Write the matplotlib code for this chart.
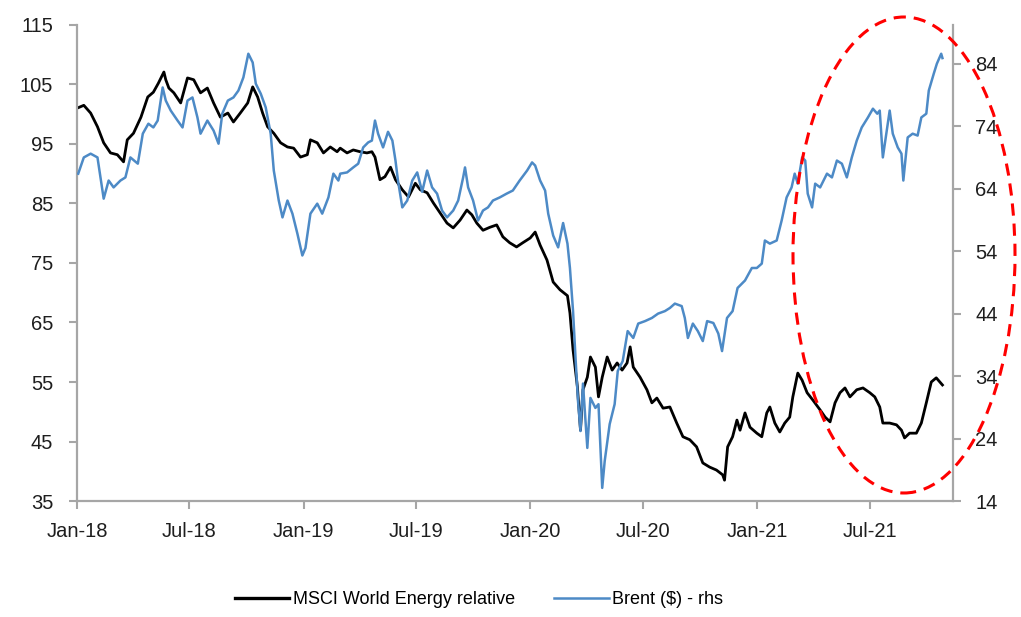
import pandas as pd
import matplotlib
matplotlib.use("Agg")
import matplotlib.pyplot as plt
import matplotlib.dates as mdates
from matplotlib.patches import Ellipse

plt.rcParams['font.family'] = ['Liberation Sans Narrow', 'Liberation Sans', 'DejaVu Sans']

# MSCI World Energy relative (lhs)
msci_dates = [
    "2018-01-03", "2018-01-12", "2018-01-23", "2018-02-03", "2018-02-13", "2018-02-24",
    "2018-03-07", "2018-03-17", "2018-03-23", "2018-04-02", "2018-04-14", "2018-04-25",
    "2018-05-04", "2018-05-12", "2018-05-21", "2018-05-24", "2018-05-29", "2018-06-06",
    "2018-06-17", "2018-06-28", "2018-07-08", "2018-07-19", "2018-07-30", "2018-08-09",
    "2018-08-20", "2018-09-01", "2018-09-10", "2018-09-21", "2018-10-03", "2018-10-11",
    "2018-10-19", "2018-10-27", "2018-11-04", "2018-11-14", "2018-11-25", "2018-12-06",
    "2018-12-16", "2018-12-27", "2019-01-07", "2019-01-12", "2019-01-23", "2019-02-02",
    "2019-02-13", "2019-02-24", "2019-03-01", "2019-03-12", "2019-03-22", "2019-04-02",
    "2019-04-13", "2019-04-21", "2019-04-26", "2019-05-04", "2019-05-12", "2019-05-21",
    "2019-05-29", "2019-06-09", "2019-06-19", "2019-06-30", "2019-07-08", "2019-07-19",
    "2019-07-29", "2019-08-09", "2019-08-20", "2019-08-30", "2019-09-10", "2019-09-21",
    "2019-09-29", "2019-10-07", "2019-10-17", "2019-10-28", "2019-11-08", "2019-11-18",
    "2019-11-29", "2019-12-10", "2019-12-20", "2020-01-01", "2020-01-09", "2020-01-17",
    "2020-01-28", "2020-02-07", "2020-02-18", "2020-03-01", "2020-03-05", "2020-03-10",
    "2020-03-17", "2020-03-22", "2020-03-26", "2020-04-02", "2020-04-07", "2020-04-15",
    "2020-04-20", "2020-04-26", "2020-05-04", "2020-05-12", "2020-05-20", "2020-05-28",
    "2020-06-05", "2020-06-10", "2020-06-15", "2020-06-26", "2020-07-07", "2020-07-15",
    "2020-07-23", "2020-08-02", "2020-08-13", "2020-08-24", "2020-09-03", "2020-09-14",
    "2020-09-25", "2020-10-05", "2020-10-16", "2020-10-27", "2020-11-06", "2020-11-09",
    "2020-11-14", "2020-11-22", "2020-11-29", "2020-12-04", "2020-12-12", "2020-12-20",
    "2020-12-31", "2021-01-08", "2021-01-16", "2021-01-21", "2021-01-29", "2021-02-06",
    "2021-02-14", "2021-02-22", "2021-02-27", "2021-03-07", "2021-03-14", "2021-03-22",
    "2021-03-31", "2021-04-12", "2021-04-20", "2021-04-28", "2021-05-06", "2021-05-14",
    "2021-05-22", "2021-05-30", "2021-06-10", "2021-06-20", "2021-07-01", "2021-07-09",
    "2021-07-17", "2021-07-22", "2021-08-02", "2021-08-13", "2021-08-21", "2021-08-26",
    "2021-09-03", "2021-09-14", "2021-09-22", "2021-09-30", "2021-10-08", "2021-10-16",
    "2021-10-26",
]
msci_values = [
    101.1, 101.5, 100.2, 97.9, 95.2, 93.5,
    93.2, 92.0, 95.7, 96.8, 99.5, 102.9,
    103.7, 105.2, 107.1, 105.8, 104.4, 103.6,
    101.9, 106.1, 105.8, 103.6, 104.4, 101.9,
    99.5, 100.2, 98.7, 100.2, 101.9, 104.6,
    102.9, 100.2, 97.9, 96.8, 95.2, 94.5,
    94.3, 92.8, 93.2, 95.7, 95.2, 93.5,
    94.5, 93.7, 94.3, 93.5, 94.0, 93.7,
    93.5, 93.7, 92.8, 89.0, 89.5, 91.1,
    89.0, 87.3, 86.1, 88.4, 87.3, 86.8,
    85.1, 83.4, 81.7, 80.9, 82.2, 83.9,
    83.1, 81.7, 80.5, 81.0, 81.4, 79.4,
    78.4, 77.7, 78.4, 79.2, 80.2, 78.0,
    75.5, 71.8, 70.5, 69.5, 66.6, 60.4,
    54.2, 46.9, 53.7, 55.8, 59.2, 57.5,
    52.5, 55.8, 59.2, 57.0, 58.2, 57.0,
    58.2, 60.9, 57.5, 55.8, 53.7, 51.5,
    52.3, 50.6, 50.8, 48.1, 45.8, 45.3,
    44.1, 41.4, 40.7, 40.2, 39.4, 38.5,
    44.1, 45.8, 48.6, 46.9, 49.8, 47.4,
    46.4, 45.8, 49.8, 50.8, 48.1, 46.6,
    48.1, 49.1, 52.5, 56.5, 55.3, 53.2,
    52.0, 50.3, 49.1, 48.3, 51.5, 53.2,
    54.0, 52.5, 53.7, 54.0, 53.2, 52.5,
    50.8, 48.1, 48.1, 47.8, 46.9, 45.6,
    46.4, 46.4, 48.1, 51.5, 55.0, 55.7,
    54.5,
]

# Brent ($) - rhs
brent_dates = [
    "2018-01-03", "2018-01-12", "2018-01-23", "2018-02-03", "2018-02-13", "2018-02-21",
    "2018-03-01", "2018-03-12", "2018-03-20", "2018-03-28", "2018-04-09", "2018-04-17",
    "2018-04-26", "2018-05-04", "2018-05-11", "2018-05-19", "2018-05-24", "2018-06-01",
    "2018-06-12", "2018-06-20", "2018-06-28", "2018-07-06", "2018-07-14", "2018-07-19",
    "2018-07-30", "2018-08-09", "2018-08-17", "2018-08-23", "2018-09-01", "2018-09-10",
    "2018-09-18", "2018-09-26", "2018-10-04", "2018-10-11", "2018-10-16", "2018-10-24",
    "2018-11-01", "2018-11-09", "2018-11-14", "2018-11-22", "2018-11-28", "2018-12-06",
    "2018-12-14", "2018-12-22", "2018-12-30", "2019-01-04", "2019-01-12", "2019-01-23",
    "2019-01-31", "2019-02-10", "2019-02-18", "2019-02-26", "2019-03-01", "2019-03-12",
    "2019-03-22", "2019-03-30", "2019-04-07", "2019-04-15", "2019-04-21", "2019-04-26",
    "2019-05-01", "2019-05-09", "2019-05-17", "2019-05-24", "2019-05-29", "2019-06-02",
    "2019-06-09", "2019-06-17", "2019-06-25", "2019-07-03", "2019-07-11", "2019-07-19",
    "2019-07-27", "2019-08-04", "2019-08-12", "2019-08-20", "2019-08-30", "2019-09-07",
    "2019-09-15", "2019-09-18", "2019-09-23", "2019-10-01", "2019-10-09", "2019-10-17",
    "2019-10-25", "2019-11-02", "2019-11-13", "2019-11-24", "2019-12-04", "2019-12-15",
    "2019-12-27", "2020-01-04", "2020-01-09", "2020-01-17", "2020-01-25", "2020-01-30",
    "2020-02-07", "2020-02-15", "2020-02-23", "2020-03-01", "2020-03-05", "2020-03-10",
    "2020-03-14", "2020-03-18", "2020-03-22", "2020-03-26", "2020-04-02", "2020-04-07",
    "2020-04-15", "2020-04-20", "2020-04-26", "2020-04-30", "2020-05-08", "2020-05-16",
    "2020-05-21", "2020-05-29", "2020-06-06", "2020-06-15", "2020-06-23", "2020-07-04",
    "2020-07-15", "2020-07-25", "2020-08-05", "2020-08-13", "2020-08-21", "2020-09-01",
    "2020-09-06", "2020-09-11", "2020-09-19", "2020-09-27", "2020-10-05", "2020-10-12",
    "2020-10-22", "2020-10-30", "2020-11-05", "2020-11-13", "2020-11-22", "2020-11-30",
    "2020-12-12", "2020-12-23", "2020-12-31", "2021-01-08", "2021-01-13", "2021-01-21",
    "2021-02-01", "2021-02-09", "2021-02-17", "2021-02-25", "2021-03-02", "2021-03-07",
    "2021-03-14", "2021-03-19", "2021-03-23", "2021-03-30", "2021-04-04", "2021-04-12",
    "2021-04-23", "2021-05-01", "2021-05-09", "2021-05-17", "2021-05-25", "2021-06-02",
    "2021-06-10", "2021-06-18", "2021-06-28", "2021-07-06", "2021-07-13", "2021-07-17",
    "2021-07-22", "2021-07-29", "2021-08-02", "2021-08-07", "2021-08-15", "2021-08-21",
    "2021-08-24", "2021-08-31", "2021-09-08", "2021-09-16", "2021-09-22", "2021-09-30",
    "2021-10-04", "2021-10-12", "2021-10-17", "2021-10-24", "2021-10-26",
]
brent_values = [
    66.4, 69.0, 69.6, 69.0, 62.4, 65.3,
    64.2, 65.3, 65.8, 69.0, 68.0, 72.8,
    74.4, 73.8, 74.9, 80.2, 78.1, 76.5,
    74.9, 73.8, 78.1, 78.6, 75.4, 72.8,
    74.9, 73.3, 71.2, 76.0, 78.1, 78.6,
    79.7, 81.8, 85.6, 84.2, 80.8, 79.2,
    77.0, 72.8, 66.9, 62.1, 59.4, 62.1,
    60.0, 56.8, 53.3, 54.5, 60.0, 61.6,
    60.0, 62.6, 66.4, 65.3, 66.4, 66.6,
    67.4, 68.0, 70.6, 71.4, 71.7, 74.9,
    72.8, 70.6, 73.1, 71.7, 68.5, 65.3,
    61.0, 62.1, 65.3, 66.6, 63.5, 66.9,
    64.2, 63.2, 60.5, 59.4, 60.5, 62.1,
    65.8, 67.4, 64.2, 62.1, 58.9, 60.5,
    61.0, 62.1, 62.6, 63.2, 63.7, 65.3,
    66.9, 68.2, 67.7, 65.3, 63.7, 60.0,
    56.5, 54.6, 58.5, 55.2, 51.3, 44.4,
    36.9, 30.0, 25.2, 32.8, 22.5, 30.5,
    28.9, 29.5, 16.1, 20.4, 26.3, 29.5,
    34.8, 36.4, 41.2, 40.1, 42.4, 42.8,
    43.3, 44.0, 44.4, 44.9, 45.6, 45.2,
    43.3, 40.1, 42.4, 41.2, 39.6, 42.8,
    42.5, 40.8, 38.0, 43.3, 44.4, 48.1,
    49.3, 51.3, 51.3, 52.0, 55.7, 55.2,
    55.7, 58.9, 62.6, 64.2, 66.4, 64.8,
    69.0, 68.5, 63.2, 61.0, 64.8, 64.2,
    66.4, 65.8, 68.5, 68.0, 65.8, 69.0,
    71.7, 73.8, 75.4, 76.8, 76.0, 76.5,
    69.0, 73.8, 76.5, 72.8, 70.6, 69.6,
    65.3, 72.2, 72.8, 72.5, 75.4, 76.0,
    79.7, 82.4, 84.0, 85.6, 84.9,
]

left_ticks = [35, 45, 55, 65, 75, 85, 95, 105, 115]
right_ticks = [14, 24, 34, 44, 54, 64, 74, 84]
x_ticks = ["2018-01-01", "2018-07-01", "2019-01-01", "2019-07-01",
           "2020-01-01", "2020-07-01", "2021-01-01", "2021-07-01"]

grey = "#a6a6a6"
txt = "#1e1e1e"
blue = "#4d8ac6"

fig = plt.figure(figsize=(10.21, 6.17), dpi=100)
ax = fig.add_axes([0.0754, 0.188, 0.858, 0.7715])
ax2 = ax.twinx()

l1, = ax.plot(pd.to_datetime(msci_dates), msci_values, color="black", lw=2.0,
              label="MSCI World Energy relative")
l2, = ax2.plot(pd.to_datetime(brent_dates), brent_values, color=blue, lw=1.8,
               label="Brent ($) - rhs")

ax.set_ylim(35, 115)
ax2.set_ylim(14, 90.2)
ax.set_yticks(left_ticks)
ax2.set_yticks(right_ticks)
ax.set_xlim(pd.Timestamp("2018-01-01"), pd.Timestamp("2021-11-12"))
ax.set_xticks(pd.to_datetime(x_ticks))
ax.xaxis.set_major_formatter(mdates.DateFormatter("%b-%y"))

for a in (ax, ax2):
    for s in a.spines.values():
        s.set_visible(False)
    a.tick_params(colors=grey, labelcolor=txt, labelsize=14.5, length=6, width=1.5)
ax.spines["left"].set_visible(True)
ax.spines["bottom"].set_visible(True)
ax2.spines["right"].set_visible(True)
for s in (ax.spines["left"], ax.spines["bottom"], ax2.spines["right"]):
    s.set_color(grey)
    s.set_linewidth(1.6)
ax.tick_params(axis="y", pad=11)
ax.tick_params(axis="x", pad=9)
ax2.tick_params(axis="y", pad=10)

# red dashed ellipse highlighting the recent period
ell = Ellipse((904 / 1021, 1 - 255 / 617), 222 / 1021, 476 / 617,
              transform=fig.transFigure, fill=False, edgecolor="red",
              lw=2.2, linestyle=(0, (4, 2.6)), zorder=10)
fig.add_artist(ell)

fig.legend(handles=[l1, l2], loc="center", bbox_to_anchor=(479 / 1021, 1 - 600 / 617),
           ncol=2, frameon=False, fontsize=13, handlelength=3.0,
           handletextpad=0.2, columnspacing=2.2)
for h, w in zip(fig.legends[0].get_lines(), (2.4, 1.8)):
    h.set_linewidth(w)

fig.savefig("out.png", dpi=100)
